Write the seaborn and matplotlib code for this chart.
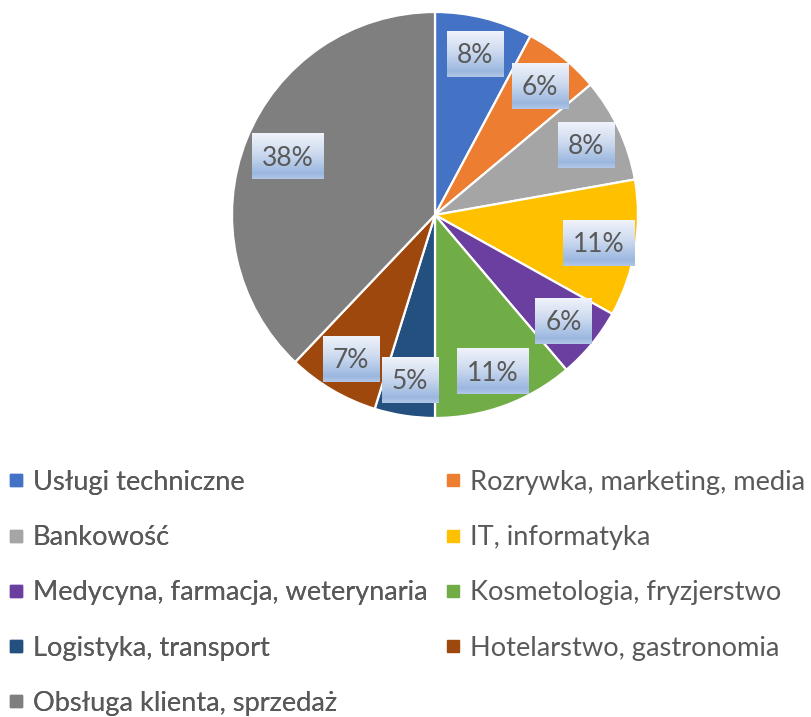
import numpy as np
import matplotlib
matplotlib.use("Agg")
import matplotlib.pyplot as plt
import seaborn as sns
from matplotlib.lines import Line2D
from matplotlib.colors import LinearSegmentedColormap
from matplotlib.transforms import ScaledTranslation

categories = [
    "Usługi techniczne",
    "Rozrywka, marketing, media",
    "Bankowość",
    "IT, informatyka",
    "Medycyna, farmacja, weterynaria",
    "Kosmetologia, fryzjerstwo",
    "Logistyka, transport",
    "Hotelarstwo, gastronomia",
    "Obsługa klienta, sprzedaż",
]
shares = [7.8, 6.1, 8.3, 10.9, 5.7, 11.2, 4.8, 7.3, 37.9]
pct_labels = ["8%", "6%", "8%", "11%", "6%", "11%", "5%", "7%", "38%"]
colors = ["#4472C4", "#ED7D31", "#A5A5A5", "#FFC000", "#6A3FA0",
          "#70AD47", "#23507F", "#9E480E", "#7F7F7F"]

sns.set_theme(style="white")
plt.rcParams['font.family'] = ['Lato', 'DejaVu Sans']

W, H = 811, 717
fig = plt.figure(figsize=(W / 100, H / 100), dpi=100)
fig.patch.set_facecolor("white")
cx, cy, r = 435, 215, 203
ax = fig.add_axes([(cx - r) / W, (H - cy - r) / H, 2 * r / W, 2 * r / H])
wedges, _ = ax.pie(shares, colors=colors, startangle=90, counterclock=False,
                   radius=1, wedgeprops=dict(edgecolor="white", linewidth=1.6))
ax.set_xlim(-1, 1)
ax.set_ylim(-1, 1)
ax.set_aspect("equal")
ax.axis("off")

label_fs = 19
txt_color = "#595959"
cap_pt = 0.72 * label_fs
texts = []
anchors = []
big = max(shares)
for w, lab, s in zip(wedges, pct_labels, shares):
    ang = np.deg2rad((w.theta1 + w.theta2) / 2)
    d = 0.78 if s == big else 0.82
    x, y = d * np.cos(ang), d * np.sin(ang)
    tr = ax.transData + ScaledTranslation(0, -cap_pt / 2 / 72, fig.dpi_scale_trans)
    t = ax.text(x, y, lab, ha="center", va="baseline", fontsize=label_fs,
                color=txt_color, zorder=6, transform=tr)
    texts.append(t)
    anchors.append((x, y))

fig.canvas.draw()
renderer = fig.canvas.get_renderer()
cmap = LinearSegmentedColormap.from_list(
    "lbl", [(0.0, "#F0F3FA"), (0.45, "#CCDAEF"), (0.88, "#9BB7DF"), (1.0, "#B3C8E7")])
grad = np.linspace(0, 1, 128).reshape(-1, 1)
inv = ax.transData.inverted()
for t, (x, y) in zip(texts, anchors):
    bb = t.get_window_extent(renderer)
    px, py = ax.transData.transform((x, y))
    bw = bb.width + 20
    bh = 46
    x0, y0 = inv.transform((px - bw / 2, py - bh / 2))
    x1, y1 = inv.transform((px + bw / 2, py + bh / 2))
    ax.imshow(grad, extent=(x0, x1, y0, y1), cmap=cmap, aspect="auto",
              origin="upper", zorder=5, interpolation="bilinear")
ax.set_xlim(-1, 1)
ax.set_ylim(-1, 1)

leg_fs = 19.6
def make_handles(idx):
    return [Line2D([], [], marker="s", linestyle="None", markersize=8,
                   markerfacecolor=colors[i], markeredgecolor=colors[i]) for i in idx]

col1 = [0, 2, 4, 6, 8]
col2 = [1, 3, 5, 7]
common = dict(fontsize=leg_fs, labelcolor=txt_color, frameon=False, loc="upper left",
              handlelength=0.5, handletextpad=0.36, labelspacing=1.11,
              borderpad=0, borderaxespad=0)
leg1 = fig.legend(make_handles(col1), [categories[i] for i in col1],
                  bbox_to_anchor=(9.5 / W, 1 - 470 / H), **common)
fig.add_artist(leg1)
leg2 = fig.legend(make_handles(col2), [categories[i] for i in col2],
                  bbox_to_anchor=(446.5 / W, 1 - 470 / H), **common)

fig.savefig("out.png", dpi=100, facecolor="white")
